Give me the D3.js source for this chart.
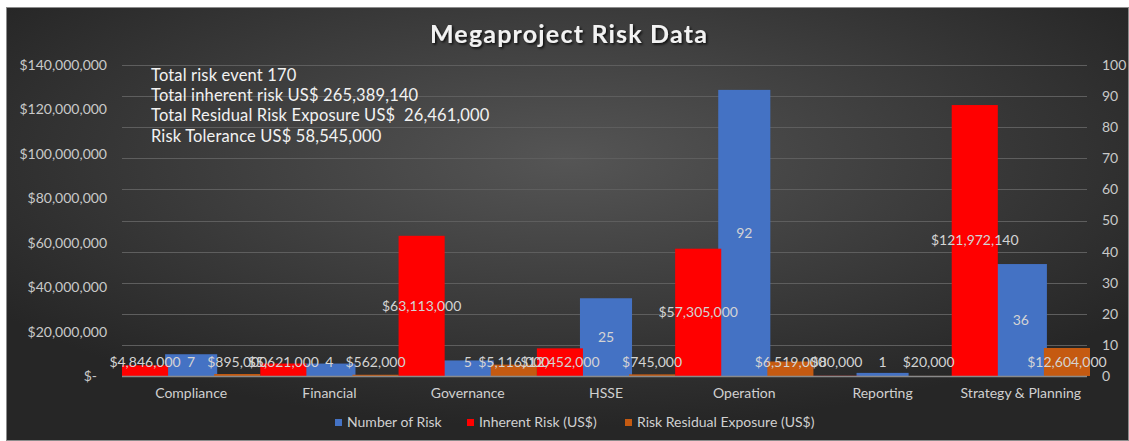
<!DOCTYPE html>
<html lang="en">
<head>
<meta charset="utf-8">
<title>Megaproject Risk Data</title>
<script src="https://cdn.jsdelivr.net/npm/d3@7/dist/d3.min.js"></script>
<style>
  body { margin: 0; background: #fff; }
  svg text { font-family: Lato, "Open Sans", sans-serif; }
</style>
</head>
<body>
<svg id="chart" width="1129" height="441"></svg>
<script>
  // values
  const categories = ["Compliance", "Financial", "Governance", "HSSE", "Operation", "Reporting", "Strategy & Planning"];
  const numberOfRisk = [7, 4, 5, 25, 92, 1, 36];
  const inherentRisk = [4846000, 5621000, 63113000, 12452000, 57305000, 80000, 121972140];
  const residualExposure = [895000, 562000, 5116000, 745000, 6519000, 20000, 12604000];
  const leftTicks = [0, 20000000, 40000000, 60000000, 80000000, 100000000, 120000000, 140000000];
  const rightTicks = [0, 10, 20, 30, 40, 50, 60, 70, 80, 90, 100];
  const notes = [
    "Total risk event 170",
    "Total inherent risk US$ 265,389,140",
    "Total Residual Risk Exposure US$  26,461,000",
    "Risk Tolerance US$ 58,545,000"
  ];

  const series = [
    { key: "inherent", name: "Inherent Risk (US$)", color: "#ff0000", values: inherentRisk, axis: "left" },
    { key: "number", name: "Number of Risk", color: "#4472c4", values: numberOfRisk, axis: "right" },
    { key: "residual", name: "Risk Residual Exposure (US$)", color: "#c55a11", values: residualExposure, axis: "left" }
  ];
  const legendOrder = ["number", "inherent", "residual"];

  const svg = d3.select("#chart");
  const W = 1129, H = 441;
  const plot = { left: 122, right: 1090, top: 65, bottom: 376 };
  const smallFont = 14;

  // background
  const defs = svg.append("defs");
  const grad = defs.append("radialGradient").attr("id", "bg")
    .attr("cx", "50%").attr("cy", "35%").attr("r", "62%");
  grad.append("stop").attr("offset", "0%").attr("stop-color", "#555555");
  grad.append("stop").attr("offset", "100%").attr("stop-color", "#262626");

  const shadow = defs.append("filter").attr("id", "shadow")
    .attr("x", "-10%").attr("y", "-30%").attr("width", "120%").attr("height", "160%");
  shadow.append("feDropShadow").attr("dx", 1.5).attr("dy", 1.5).attr("stdDeviation", 1)
    .attr("flood-color", "#000").attr("flood-opacity", 0.8);

  svg.append("rect").attr("x", 6.5).attr("y", 7.5).attr("width", W - 7).attr("height", H - 8)
    .attr("fill", "url(#bg)").attr("stroke", "#8c8c8c");

  const fmtMoney = d3.format("$,");

  const x0 = d3.scaleBand().domain(categories).range([plot.left, plot.right]).padding(0);
  const x1 = d3.scaleBand().domain(series.map(s => s.key)).range([0, x0.bandwidth()]).padding(0);
  const yL = d3.scaleLinear().domain([0, 140000000]).range([plot.bottom, plot.top]);
  const yR = d3.scaleLinear().domain([0, 100]).range([plot.bottom, plot.top]);

  // gridlines follow the secondary axis
  svg.append("g").selectAll("line").data(rightTicks.filter(d => d > 0)).join("line")
    .attr("x1", plot.left).attr("x2", plot.right - 3)
    .attr("y1", d => Math.round(yR(d)) + 0.5).attr("y2", d => Math.round(yR(d)) + 0.5)
    .attr("stroke", "#5e5e5e").attr("stroke-width", 1);

  // left axis
  const leftAxis = svg.append("g")
    .attr("transform", `translate(${plot.left - 15},0)`)
    .call(d3.axisLeft(yL).tickValues(leftTicks).tickSize(0).tickPadding(0)
      .tickFormat(d => d === 0 ? "$-" : fmtMoney(d)));
  leftAxis.select(".domain").remove();
  leftAxis.selectAll("text").attr("fill", "#c9c9c9").attr("font-size", smallFont)
    .attr("dx", d => d === 0 ? -10 : 0);

  // right axis
  const rightAxis = svg.append("g")
    .attr("transform", `translate(${plot.right + 12},0)`)
    .call(d3.axisRight(yR).tickValues(rightTicks).tickSize(0).tickPadding(0));
  rightAxis.select(".domain").remove();
  rightAxis.selectAll("text").attr("fill", "#c9c9c9").attr("font-size", smallFont);

  // bars: the secondary (count) series first, money series over it
  const drawOrder = ["number", "inherent", "residual"];
  drawOrder.forEach(k => {
    const s = series.find(d => d.key === k);
    const y = s.axis === "left" ? yL : yR;
    const extra = s.key === "number" ? 3 : 0;
    svg.append("g").selectAll("rect").data(categories).join("rect")
      .attr("x", (c) => x0(c) + x1(s.key) - extra)
      .attr("width", x1.bandwidth() + extra * 2)
      .attr("y", (c, i) => y(s.values[i]))
      .attr("height", (c, i) => plot.bottom - y(s.values[i]))
      .attr("fill", s.color);
  });

  // baseline
  svg.append("line").attr("x1", plot.left).attr("x2", plot.right - 3)
    .attr("y1", plot.bottom + 0.5).attr("y2", plot.bottom + 0.5)
    .attr("stroke", "#8a8a8a").attr("stroke-width", 1.5);

  // data labels, centred in the bar but kept above the axis
  series.forEach(s => {
    const y = s.axis === "left" ? yL : yR;
    svg.append("g").selectAll("text").data(categories).join("text")
      .attr("x", c => x0(c) + x1(s.key) + x1.bandwidth() / 2)
      .attr("y", (c, i) => Math.min((y(s.values[i]) + plot.bottom) / 2, plot.bottom - 14))
      .attr("dy", "0.35em")
      .attr("text-anchor", "middle")
      .attr("fill", "#d4d4d4").attr("font-size", smallFont)
      .text((c, i) => s.axis === "left" ? fmtMoney(s.values[i]) : s.values[i]);
  });

  // category labels
  svg.append("g").selectAll("text").data(categories).join("text")
    .attr("x", c => x0(c) + x0.bandwidth() / 2)
    .attr("y", 393).attr("dy", "0.35em")
    .attr("text-anchor", "middle")
    .attr("fill", "#d0d0d0").attr("font-size", smallFont)
    .text(c => c);

  // title
  svg.append("text").attr("x", 569).attr("y", 34).attr("dy", "0.35em")
    .attr("text-anchor", "middle").attr("fill", "#f2f2f2")
    .attr("font-size", 25).attr("font-weight", 700).attr("letter-spacing", 1.2)
    .attr("filter", "url(#shadow)")
    .text("Megaproject Risk Data");

  // notes box text
  svg.append("g").selectAll("text").data(notes).join("text")
    .attr("x", 151).attr("y", (d, i) => 75 + i * 20.3).attr("dy", "0.35em")
    .attr("fill", "#f2f2f2").attr("font-size", 16.5).attr("letter-spacing", 0.15)
    .attr("xml:space", "preserve").style("white-space", "pre")
    .text(d => d);

  // legend
  const legendX = { number: 335, inherent: 467, residual: 625 };
  const legend = svg.append("g");
  legendOrder.forEach(k => {
    const s = series.find(d => d.key === k);
    legend.append("rect").attr("x", legendX[k]).attr("y", 419).attr("width", 7).attr("height", 7)
      .attr("fill", s.color);
    legend.append("text").attr("x", legendX[k] + 12).attr("y", 422.5).attr("dy", "0.35em")
      .attr("fill", "#d0d0d0").attr("font-size", smallFont)
      .text(s.name);
  });
</script>
</body>
</html>
